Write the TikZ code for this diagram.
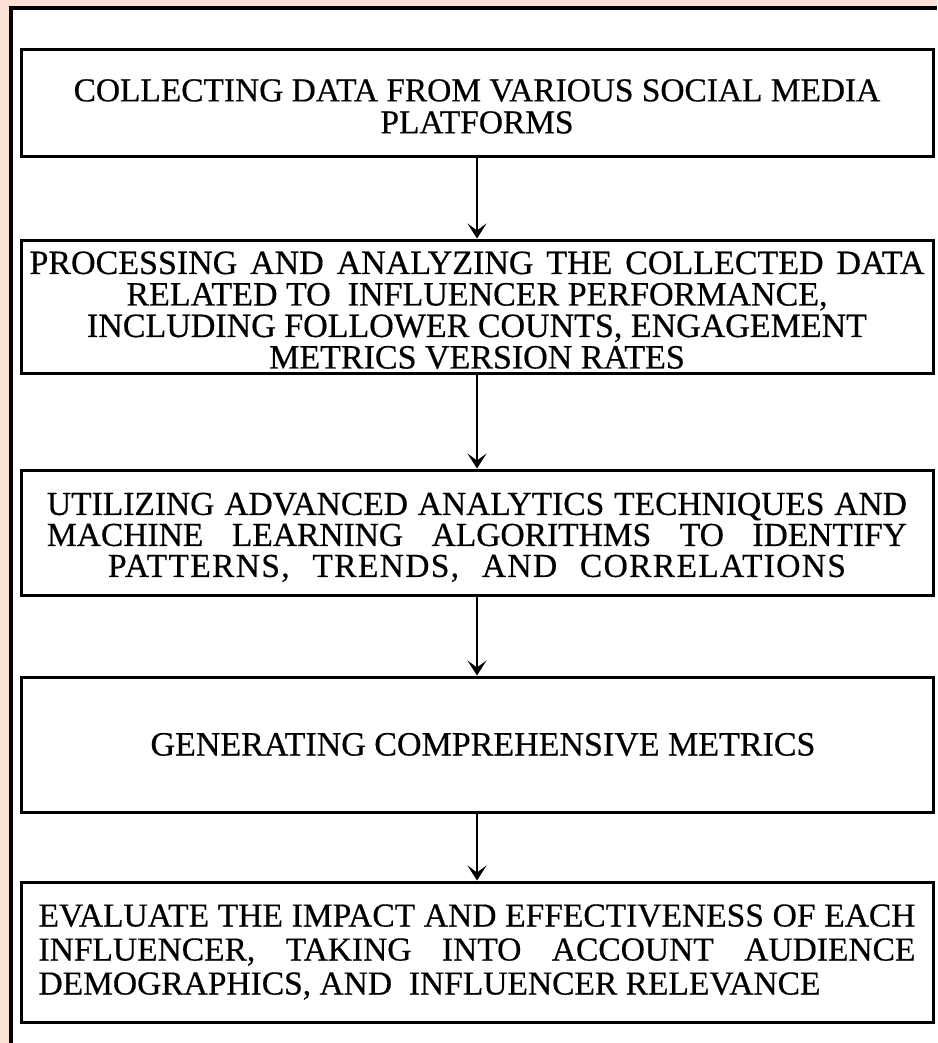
\documentclass[tikz,border=0pt]{standalone}
\usepackage{fontspec}
\setmainfont{Liberation Serif}[FakeBold=0.5]
\usetikzlibrary{arrows.meta}
\definecolor{pagetint}{RGB}{252,227,213}
\newcommand{\boxfont}[2]{\fontsize{#1}{#2}\selectfont\addfontfeature{FakeBold=0.5}}
\begin{document}
\begin{tikzpicture}[x=1pt,y=-1pt,
  stepbox/.style={draw=black,line width=3pt,fill=white,inner sep=0pt,
    minimum width=912pt,align=center,text=black},
  flow/.style={line width=2.6pt,-{Stealth[length=15pt,width=19pt,inset=7pt]}}]
\useasboundingbox (0,0) rectangle (937,1043);
% page tint and inner white sheet with its left/top rule
\fill[pagetint] (0,0) rectangle (937,1043);
\fill[white] (11,8.5) rectangle (937,1043);
\draw[line width=4pt] (11,1043) -- (11,8.5) -- (937,8.5);
% process steps
\node[stepbox,minimum height=107pt,font=\boxfont{33.4}{32}] (s1) at (477,103.5)
  {\rule{0pt}{28pt}COLLECTING DATA FROM VARIOUS SOCIAL MEDIA\\PLATFORMS};
\node[stepbox,minimum height=133pt,font=\boxfont{34}{31.5}] (s2) at (477,306.5)
  {\rule{0pt}{30pt}\makebox[895pt][s]{PROCESSING AND ANALYZING THE COLLECTED DATA}\\
   RELATED TO\ \ INFLUENCER PERFORMANCE,\\
   INCLUDING FOLLOWER COUNTS, ENGAGEMENT\\
   METRICS VERSION RATES};
\node[stepbox,minimum height=125pt,font=\boxfont{33.5}{31}] (s3) at (477,532.5)
  {\rule{0pt}{32pt}\makebox[860pt][s]{UTILIZING ADVANCED ANALYTICS TECHNIQUES AND}\\
   \makebox[860pt][s]{MACHINE LEARNING ALGORITHMS TO IDENTIFY}\\
   {\addfontfeature{LetterSpace=4}\makebox[738pt][s]{PATTERNS, TRENDS, AND CORRELATIONS}}};
\node[stepbox,minimum height=135pt,font=\boxfont{34}{31}] (s4) at (477,744.5)
  {\hspace*{12pt}GENERATING COMPREHENSIVE METRICS};
\node[stepbox,minimum height=140pt,font=\boxfont{33.5}{34}] (s5) at (477,952)
  {\makebox[877pt][s]{EVALUATE THE IMPACT AND EFFECTIVENESS OF EACH}\\
   \makebox[877pt][s]{INFLUENCER, TAKING INTO ACCOUNT AUDIENCE}\\
   \makebox[877pt][l]{DEMOGRAPHICS, AND\ \ INFLUENCER RELEVANCE}};
% connectors
\draw[flow] (s1) -- (s2);
\draw[flow] (s2) -- (s3);
\draw[flow] (s3) -- (s4);
\draw[flow] (s4) -- (s5);
\end{tikzpicture}
\end{document}
